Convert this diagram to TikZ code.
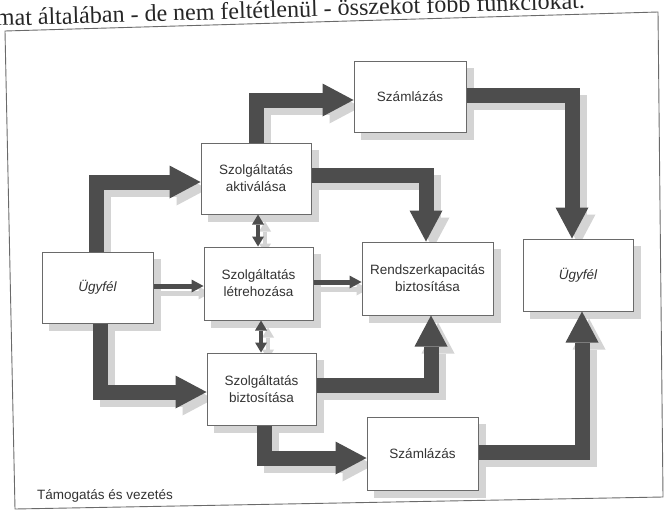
\documentclass[tikz,border=0pt]{standalone}
\usepackage{fontspec}
\setmainfont{Liberation Serif}
\newfontfamily\arialf{Liberation Sans}
\usetikzlibrary{arrows.meta}
\pgfdeclarelayer{bg}
\pgfsetlayers{bg,main}
\definecolor{arrowc}{HTML}{4D4D4D}
\definecolor{shadowc}{HTML}{D4D4D4}
\definecolor{borderc}{HTML}{6A6A6A}
\definecolor{textc}{HTML}{333333}
\tikzset{
  box/.style={draw=borderc, line width=1pt, fill=white, inner sep=0pt, align=center,
    font=\arialf\fontsize{13.5}{17}\selectfont, text=textc},
  bigarrow/.style={line width=15pt, line join=miter,
    -{Triangle[length=31pt,width=33pt,line width=0pt]}},
  thinarrow/.style={line width=5pt,
    -{Triangle[length=12pt,width=13pt,line width=0pt]}},
  twoway/.style={line width=4pt,
    {Triangle[length=10pt,width=12pt,line width=0pt]}-{Triangle[length=10pt,width=12pt,line width=0pt]}},
  framec/.style={draw=borderc, line width=0.9pt},
}
\newcommand\allarrows[1]{%
  \draw[bigarrow,#1] (ugyL.north -| 96,0) |- (akt.west |- 0,182);
  \draw[bigarrow,#1] (akt.north -| 256,0) |- (szamT.west |- 0,100);
  \draw[bigarrow,#1] (szamT.east |- 0,95) -| (ugyR.north -| 572,0);
  \draw[bigarrow,#1] (akt.east |- 0,175) -| (rend.north -| 426,0);
  \draw[bigarrow,#1] (ugyL.south -| 100,0) |- (bizt.west |- 0,392);
  \draw[bigarrow,#1] (bizt.east |- 0,385) -| (rend.south -| 431,0);
  \draw[bigarrow,#1] (bizt.south -| 264,0) |- (szamB.west |- 0,458);
  \draw[bigarrow,#1] (szamB.east |- 0,452) -| (ugyR.south -| 582,0);
  \draw[thinarrow,#1] (ugyL.east |- 0,286) -- (letre.west |- 0,286);
  \draw[thinarrow,#1] (letre.east |- 0,282) -- (rend.west |- 0,282);
  \draw[twoway,#1] (akt.south -| 258,0) -- (letre.north -| 258,0);
  \draw[twoway,#1] (letre.south -| 261,0) -- (bizt.north -| 261,0);
}
\begin{document}
\begin{tikzpicture}[x=1pt,y=-1pt]
\useasboundingbox (0,0) rectangle (666,514);
\clip (0,0) rectangle (666,514);

% header line of the page
\node[anchor=base west, rotate=1.7, inner sep=0pt, font=\fontsize{24}{28}\selectfont, text=black!85]
  (title) at (-4,26) {mat általában - de nem feltétlenül - összekot fóbb funkciókat.};

% frame
\draw[framec] (5,31) -- (658,12) -- (663,497) -- (15,509) -- cycle;

% boxes
\node[box, minimum width=111pt, minimum height=71pt] (ugyL)  at (97.5,287.5) {\itshape Ügyfél};
\node[box, minimum width=110pt, minimum height=71pt] (akt)   at (256,178.5) {Szolgáltatás\\aktiválása};
\node[box, minimum width=109pt, minimum height=73pt] (letre) at (258.5,283.5) {Szolgáltatás\\létrehozása};
\node[box, minimum width=109pt, minimum height=72pt] (bizt)  at (261.5,389) {Szolgáltatás\\biztosítása};
\node[box, minimum width=112pt, minimum height=71pt] (szamT) at (410,96.5) {Számlázás};
\node[box, minimum width=131pt, minimum height=73pt] (rend)  at (427.5,278.5) {Rendszerkapacitás\\biztosítása};
\node[box, minimum width=110pt, minimum height=72pt] (ugyR)  at (578,275) {\itshape Ügyfél};
\node[box, minimum width=111pt, minimum height=73pt] (szamB) at (422.5,453.5) {Számlázás};

\node[anchor=base west, inner sep=0pt, font=\arialf\fontsize{13.5}{17}\selectfont, text=textc]
  (label) at (37,499) {Támogatás és vezetés};

% arrows
\allarrows{arrowc}

% background and shadows
\begin{pgfonlayer}{bg}
\fill[white] (0,0) rectangle (666,514);
\begin{scope}[transform canvas={shift={(7pt,-7pt)}}]
  \foreach \n in {ugyL,akt,letre,bizt,szamT,rend,ugyR,szamB}
    \fill[shadowc] (\n.south west) rectangle (\n.north east);
  \allarrows{shadowc}
\end{scope}
\end{pgfonlayer}
\end{tikzpicture}
\end{document}
